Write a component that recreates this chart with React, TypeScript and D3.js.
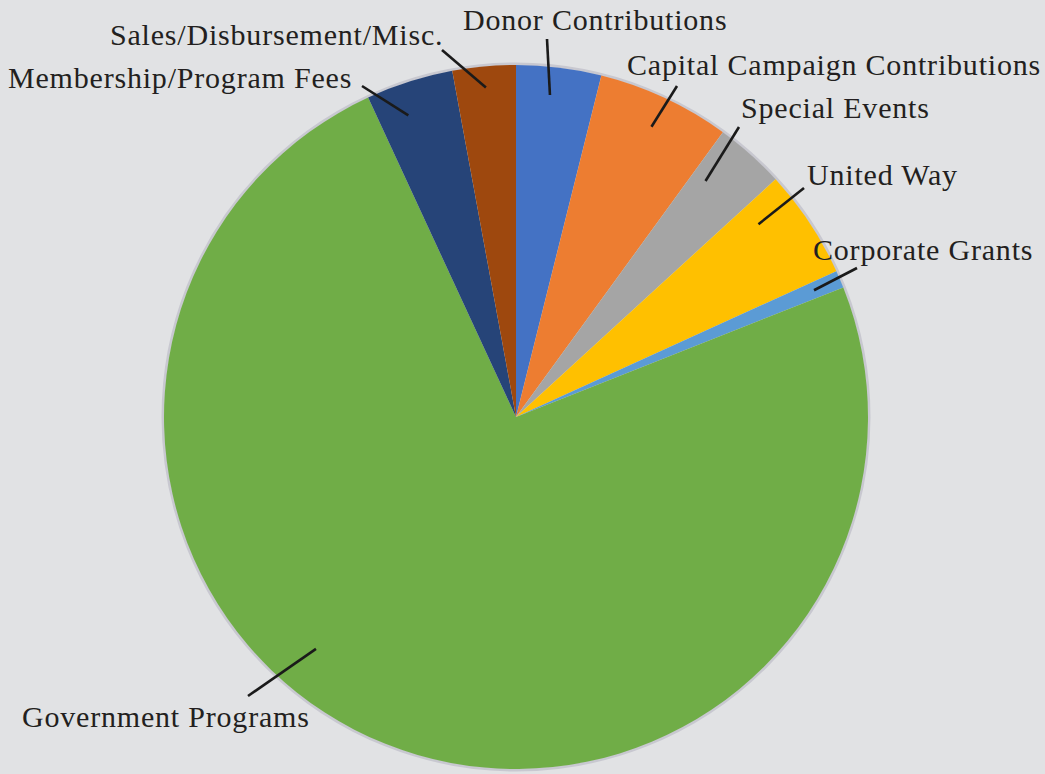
import * as d3 from 'd3';

// revenue share by source, clockwise from 12 o'clock
const categories = [
  'Donor Contributions',
  'Capital Campaign Contributions',
  'Special Events',
  'United Way',
  'Corporate Grants',
  'Government Programs',
  'Membership/Program Fees',
  'Sales/Disbursement/Misc.',
];
const shares = [3.9, 6.1, 3.2, 5.0, 0.8, 74.1, 4.0, 2.9];
const colors = ['#4472C4', '#ED7D31', '#A5A5A5', '#FFC000', '#5B9BD5', '#70AD47', '#264478', '#9E480E'];

// label placement (Excel best-fit style), in page px
const labelLayout = [
  { nudge: -1, rFrac: 0.92, lineEnd: [547, 39], text: [463, 30] },
  { nudge: 0, rFrac: 0.91, lineEnd: [677, 86], text: [627, 75] },
  { nudge: -3, rFrac: 0.86, lineEnd: [739, 127], text: [741, 118] },
  { nudge: -5, rFrac: 0.88, lineEnd: [804, 188], text: [807, 185] },
  { nudge: 0, rFrac: 0.92, lineEnd: [857, 268], text: [813, 260] },
  { nudge: 19, rFrac: 0.87, lineEnd: [248, 696], text: [22, 727] },
  { nudge: -2, rFrac: 0.91, lineEnd: [362, 86], text: [8, 88] },
  { nudge: 0, rFrac: 0.94, lineEnd: [442, 50], text: [110, 45] },
];

const W = 1045;
const H = 774;
const cx = 516;
const cy = 417;
const R = 352;
const INK = '#231F20';

export default function App() {
  const data = categories.map((c, i) => ({ name: c, value: shares[i], color: colors[i] }));
  const pie = d3
    .pie<{ name: string; value: number; color: string }>()
    .value((d) => d.value)
    .sort(null)(data);
  const arc = d3
    .arc<d3.PieArcDatum<{ name: string; value: number; color: string }>>()
    .innerRadius(0)
    .outerRadius(R);

  return (
    <svg
      width={W}
      height={H}
      style={{ position: 'absolute', left: 0, top: 0, background: '#E1E2E4' }}
    >
      <rect width={W} height={H} fill="#E1E2E4" />
      <circle cx={cx} cy={cy} r={R + 1} fill="none" stroke="#C8C8D0" strokeWidth={3} />
      <g transform={`translate(${cx},${cy})`}>
        {pie.map((s) => (
          <path key={s.data.name} d={arc(s) ?? undefined} fill={s.data.color} />
        ))}
      </g>
      {pie.map((s, i) => {
        const lay = labelLayout[i];
        const a = (s.startAngle + s.endAngle) / 2 + (lay.nudge * Math.PI) / 180;
        const x1 = cx + Math.sin(a) * R * lay.rFrac;
        const y1 = cy - Math.cos(a) * R * lay.rFrac;
        return (
          <g key={s.data.name}>
            <line x1={x1} y1={y1} x2={lay.lineEnd[0]} y2={lay.lineEnd[1]} stroke="#1A1A1A" strokeWidth={2.6} />
            <text
              x={lay.text[0]}
              y={lay.text[1]}
              fontFamily="'Liberation Serif', serif"
              fontSize={30}
              letterSpacing={0.8}
              fill={INK}
            >
              {s.data.name}
            </text>
          </g>
        );
      })}
    </svg>
  );
}
